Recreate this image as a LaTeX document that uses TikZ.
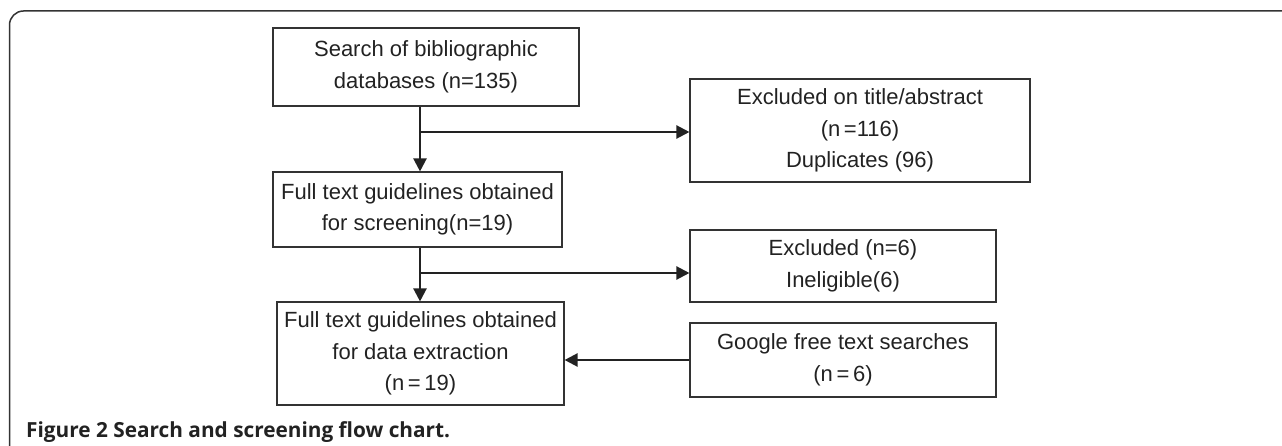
\documentclass[tikz,border=0pt]{standalone}
\usepackage{fontspec}
\setmainfont{Liberation Sans}
\newfontfamily\capfont{Open Sans}
\usetikzlibrary{arrows.meta}
\definecolor{ink}{HTML}{222222}
\definecolor{edge}{HTML}{333333}
\begin{document}
\begin{tikzpicture}[x=1pt,y=-1pt,
  box/.style={draw=edge, line width=1.1pt, inner sep=0pt, text=ink, align=center,
    font=\fontsize{22}{31.5}\selectfont},
  arr/.style={draw=ink, line width=2.2pt, -{Triangle[length=13pt,width=13pt]}},
  frame/.style={draw=edge, line width=1.5pt, rounded corners=14pt}]
\useasboundingbox (0,0) rectangle (1282,446);
\draw[frame] (9.5,450) |- (1290,11);
% boxes
\node[box, minimum width=306pt, minimum height=78pt] (b1) at (426,67)
  {Search of bibliographic\\databases (n=135)};
\node[box, minimum width=289pt, minimum height=75pt] (b2) at (417.5,209.5)
  {Full text guidelines obtained\\for screening(n=19)};
\node[box, minimum width=287pt, minimum height=103pt] (b3) at (420.5,353.5)
  {Full text guidelines obtained\\for data extraction\\(n\,=\,19)};
\node[box, minimum width=340pt, minimum height=103pt] (e1) at (860,130.5)
  {Excluded on title/abstract\\(n\,=116)\\Duplicates (96)};
\node[box, minimum width=306pt, minimum height=72pt] (e2) at (843,266)
  {Excluded (n=6)\\Ineligible(6)};
\node[box, minimum width=306pt, minimum height=74pt] (g) at (843,360)
  {Google free text searches\\(n\,=\,6)};
% connectors
\coordinate (s1) at (420,132);
\coordinate (s2) at (420,273);
\draw[arr] (b1.south -| s1) -- (b2.north -| s1);
\draw[arr] (s1) -- (s1 -| e1.west);
\draw[arr] (b2.south -| s2) -- (b3.north -| s2);
\draw[arr] (s2) -- (s2 -| e2.west);
\draw[arr] (g.west) -- (g.west -| b3.east);
% caption
\node[anchor=base west, inner sep=0pt, text=ink, font=\capfont\bfseries\fontsize{20.8}{22}\selectfont] (cap) at (26,437)
  {Figure 2 Search and screening flow chart.};
\end{tikzpicture}
\end{document}
